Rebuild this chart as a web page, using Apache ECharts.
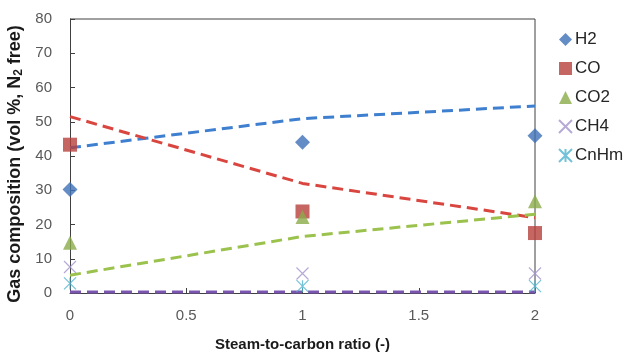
<!DOCTYPE html>
<html>
<head>
<meta charset="utf-8">
<script src="https://cdn.jsdelivr.net/npm/echarts@6/dist/echarts.min.js"></script>
<style>
  html, body { margin: 0; padding: 0; background: #fff; }
  #chart { width: 635px; height: 354px; }
</style>
</head>
<body>
<div id="chart"></div>
<script>
// Steam-to-carbon ratio values
const ratios = [0, 1, 2];

// Measured gas composition (vol %, N2 free)
const h2Measured   = [30.2, 44.0, 45.9];
const coMeasured   = [43.3, 23.8, 17.5];
const co2Measured  = [14.7, 22.2, 26.8];
const ch4Measured  = [7.6, 5.7, 5.7];
const cnhmMeasured = [2.8, 2.0, 2.0];

// Model predictions (dashed lines)
const h2Model  = [42.4, 50.9, 54.6];
const coModel  = [51.5, 32.0, 22.0];
const co2Model = [5.2, 16.5, 23.0];
const ch4Model = [0.3, 0.3, 0.3];

const xTicks = { min: 0, max: 2, interval: 0.5 };
const yTicks = { min: 0, max: 80, interval: 10 };

const pairs = (ys) => ratios.map((x, i) => [x, ys[i]]);

const crossPath = 'path://M0,0L10,10M10,0L0,10';
const starPath = 'path://M0,0L10,10M10,0L0,10M5,0L5,10';

const FONT = 'Liberation Sans, Arial, sans-serif';

const chart = echarts.init(document.getElementById('chart'), null, { renderer: 'canvas' });

const axisLine = { show: true, lineStyle: { color: '#404040', width: 1 } };
const labelStyle = { color: '#595959', fontSize: 15, fontFamily: FONT };

function modelLine(data, color) {
  return {
    type: 'line', data: pairs(data), symbol: 'none', silent: true,
    lineStyle: { color: color, width: 3, type: [11, 6] }, z: 2
  };
}

chart.setOption({
  animation: false,
  grid: { left: 70, right: 100, top: 19, bottom: 61, containLabel: false, outerBoundsMode: 'none' },
  xAxis: {
    type: 'value', min: xTicks.min, max: xTicks.max, interval: xTicks.interval,
    axisLine: axisLine,
    axisTick: { show: true, inside: true, length: 5, lineStyle: { color: '#404040' } },
    axisLabel: Object.assign({ margin: 15, formatter: (v) => String(v) }, labelStyle),
    splitLine: { show: false },
    name: 'Steam-to-carbon ratio (-)', nameLocation: 'middle', nameGap: 44,
    nameTextStyle: { color: '#1a1a1a', fontSize: 15, fontWeight: 'bold', fontFamily: FONT }
  },
  yAxis: {
    type: 'value', min: yTicks.min, max: yTicks.max, interval: yTicks.interval,
    axisLine: axisLine,
    axisTick: { show: true, inside: true, length: 5, lineStyle: { color: '#404040' } },
    axisLabel: Object.assign({ margin: 18 }, labelStyle),
    splitLine: { show: false },
    name: '{a|Gas composition (vol %, N}{s|2}{a| free)}', nameLocation: 'middle', nameGap: 41,
    nameTextStyle: {
      padding: [0, 16, 0, 0],
      rich: {
        a: { color: '#1a1a1a', fontSize: 18, fontWeight: 'bold', fontFamily: FONT, lineHeight: 22 },
        s: { color: '#1a1a1a', fontSize: 12, fontWeight: 'bold', fontFamily: FONT, lineHeight: 22, padding: [0, 0, -7, 0] }
      }
    }
  },
  legend: {
    orient: 'vertical', left: 553, top: 26, itemGap: 12, itemWidth: 13, itemHeight: 13,
    data: ['H2', 'CO', 'CO2', 'CH4', 'CnHm'],
    textStyle: { color: '#262626', fontSize: 17, fontFamily: FONT, padding: [0, 0, 0, -2] }
  },
  series: [
    modelLine(h2Model, '#3f7fcf'),
    modelLine(coModel, '#d9463f'),
    modelLine(co2Model, '#9bc24d'),
    modelLine(ch4Model, '#7a56b0'),
    { name: 'H2', type: 'scatter', data: pairs(h2Measured), symbol: 'diamond', symbolSize: 15, clip: false,
      itemStyle: { color: '#3d6fb6' }, z: 5 },
    { name: 'CO', type: 'scatter', data: pairs(coMeasured), symbol: 'rect', symbolSize: 14, clip: false,
      itemStyle: { color: '#b7403c' }, z: 5 },
    { name: 'CO2', type: 'scatter', data: pairs(co2Measured), symbol: 'triangle', symbolSize: 14, clip: false,
      itemStyle: { color: '#8bab4a' }, z: 5 },
    { name: 'CH4', type: 'scatter', data: pairs(ch4Measured), symbol: crossPath, symbolSize: 12, clip: false,
      itemStyle: { color: 'rgba(0,0,0,0)', borderColor: '#a493cc', borderWidth: 1.2 }, z: 5 },
    { name: 'CnHm', type: 'scatter', data: pairs(cnhmMeasured), symbol: starPath, symbolSize: 12, clip: false,
      itemStyle: { color: 'rgba(0,0,0,0)', borderColor: '#4fb3cf', borderWidth: 1.2 }, z: 5 }
  ]
});

// Frame: draw the top and right edges of the plotting area
const tl = chart.convertToPixel({ gridIndex: 0 }, [xTicks.min, yTicks.max]);
const br = chart.convertToPixel({ gridIndex: 0 }, [xTicks.max, yTicks.min]);
chart.setOption({
  graphic: [
    { type: 'polyline', z: 1, shape: { points: [[tl[0], tl[1]], [br[0], tl[1]], [br[0], br[1]]] },
      style: { stroke: '#404040', lineWidth: 1, fill: null } }
  ]
});
</script>
</body>
</html>
